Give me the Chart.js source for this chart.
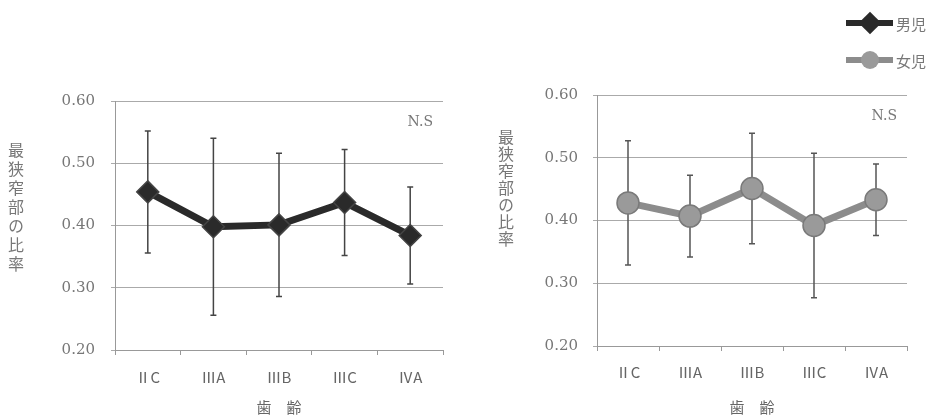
<!DOCTYPE html>
<html>
<head>
<meta charset="utf-8">
<script src="https://cdn.jsdelivr.net/npm/chart.js@4.4.0/dist/chart.umd.min.js"></script>
<style>
  body { margin: 0; background: #fff; width: 933px; height: 417px; overflow: hidden; position: relative; font-family: "Noto Sans CJK JP", sans-serif; color: #666; }
  .box { position: absolute; top: 0; height: 417px; }
  .ytitle { position: absolute; writing-mode: vertical-rl; font-size: 16px; color: #777; line-height: 1; }
  #legend { position: absolute; left: 846px; top: 10px; }
  .item { display: flex; align-items: center; height: 26px; margin-bottom: 11px; font-size: 15px; color: #777; }
  .sym { position: relative; width: 47px; height: 26px; margin-right: 3px; }
  .sym .ln { position: absolute; left: 0; right: 0; top: 10px; height: 6px; }
  .sym .mk { position: absolute; left: 50%; top: 50%; }
</style>
</head>
<body>
<div class="box" style="left:0;width:470px"><canvas id="boys"></canvas></div>
<div class="box" style="left:470px;width:463px"><canvas id="girls"></canvas></div>
<div class="ytitle" style="left:8px;top:142px;letter-spacing:3px">最狭窄部の比率</div>
<div class="ytitle" style="left:498px;top:129px;letter-spacing:1px">最狭窄部の比率</div>
<div id="legend"></div>
<script>
// 歯齢 (dental age)
const categories = ['ⅡC', 'ⅢA', 'ⅢB', 'ⅢC', 'ⅣA'];
const yTicks = [0.20, 0.30, 0.40, 0.50, 0.60];

// 男児
const boysMean = [0.454, 0.398, 0.401, 0.437, 0.384];
const boysSD = [0.098, 0.142, 0.115, 0.085, 0.078];

// 女児
const girlsMean = [0.428, 0.407, 0.451, 0.392, 0.433];
const girlsSD = [0.099, 0.065, 0.088, 0.115, 0.057];

const serif = '"DejaVu Serif"';

// error bars drawn under the line and markers
const errorBars = {
  id: 'errorBars',
  beforeDatasetsDraw(chart, args, opts) {
    const ctx = chart.ctx;
    const x = chart.scales.x, y = chart.scales.y;
    const means = chart.data.datasets[0].data;
    ctx.save();
    ctx.strokeStyle = opts.color;
    ctx.lineWidth = 1.5;
    means.forEach((m, i) => {
      const px = x.getPixelForValue(i);
      const top = y.getPixelForValue(m + opts.sd[i]);
      const bot = y.getPixelForValue(m - opts.sd[i]);
      ctx.beginPath();
      ctx.moveTo(px, top); ctx.lineTo(px, bot);
      ctx.moveTo(px - 3, top); ctx.lineTo(px + 3, top);
      ctx.moveTo(px - 3, bot); ctx.lineTo(px + 3, bot);
      ctx.stroke();
    });
    ctx.restore();
  },
  afterDraw(chart) {
    // N.S label
    const ctx = chart.ctx, a = chart.chartArea;
    ctx.save();
    ctx.font = '14px ' + serif;
    ctx.fillStyle = '#777';
    ctx.textAlign = 'right';
    ctx.textBaseline = 'middle';
    ctx.fillText('N.S', a.right - 10, a.top + 21);
    ctx.restore();
  }
};

function makeChart(id, label, means, sd, look, geo) {
  return new Chart(document.getElementById(id), {
    type: 'line',
    data: {
      labels: categories,
      datasets: [{
        label: label,
        data: means,
        borderColor: look.line,
        borderWidth: 7,
        pointStyle: look.point,
        pointRadius: look.radius,
        pointBackgroundColor: look.fill,
        pointBorderColor: look.edge,
        pointBorderWidth: 1.5,
        tension: 0
      }]
    },
    options: {
      responsive: true,
      maintainAspectRatio: false,
      animation: false,
      layout: { padding: { left: 0, right: geo.right, top: geo.top, bottom: 0 } },
      plugins: {
        legend: { display: false },
        tooltip: { enabled: false },
        errorBars: { sd: sd, color: look.err }
      },
      scales: {
        x: {
          offset: true,
          grid: { offset: true, drawOnChartArea: false, color: '#999', tickLength: 5 },
          border: { color: '#999' },
          ticks: { color: '#666', padding: geo.xPad, font: { family: '"Noto Sans CJK JP"', size: 15 } },
          title: { display: true, text: '歯　齢', color: '#666', padding: { top: 0, bottom: 1 }, font: { family: '"Noto Sans CJK JP"', size: 15 } },
          afterFit(s) { s.height = geo.xHeight; }
        },
        y: {
          min: 0.2,
          max: 0.6,
          afterBuildTicks(s) { s.ticks = yTicks.map(v => ({ value: v })); },
          grid: { color: '#aaa', tickLength: 4 },
          border: { color: '#999' },
          ticks: {
            color: '#777', padding: geo.yPad,
            font: { family: serif, size: 15 },
            callback: v => v.toFixed(2)
          },
          afterFit(s) { s.width = geo.yWidth; }
        }
      }
    },
    plugins: [errorBars]
  });
}

const boysLook = { line: '#2a2a2a', point: 'rectRot', radius: 11, fill: '#2a2a2a', edge: '#444', err: '#444' };
const girlsLook = { line: '#8c8c8c', point: 'circle', radius: 11, fill: '#9a9a9a', edge: '#7a7a7a', err: '#555' };

const c1 = makeChart('boys', '男児', boysMean, boysSD, boysLook,
  { right: 27, top: 101, xHeight: 67, xPad: 13, yWidth: 115, yPad: 16 });
const c2 = makeChart('girls', '女児', girlsMean, girlsSD, girlsLook,
  { right: 26, top: 95, xHeight: 71, xPad: 12, yWidth: 127, yPad: 15 });

// shared legend built from the two datasets
const legend = document.getElementById('legend');
[[c1, boysLook], [c2, girlsLook]].forEach(([c, look]) => {
  const ds = c.data.datasets[0];
  const item = document.createElement('div');
  item.className = 'item';
  const mk = look.point === 'rectRot'
    ? `<div class="mk" style="width:16px;height:16px;margin:-8px 0 0 -8px;background:${look.fill};transform:rotate(45deg)"></div>`
    : `<div class="mk" style="width:18px;height:18px;margin:-9px 0 0 -9px;background:${look.fill};border-radius:50%"></div>`;
  item.innerHTML = `<div class="sym"><div class="ln" style="background:${ds.borderColor}"></div>${mk}</div><span>${ds.label}</span>`;
  legend.appendChild(item);
});
</script>
</body>
</html>
